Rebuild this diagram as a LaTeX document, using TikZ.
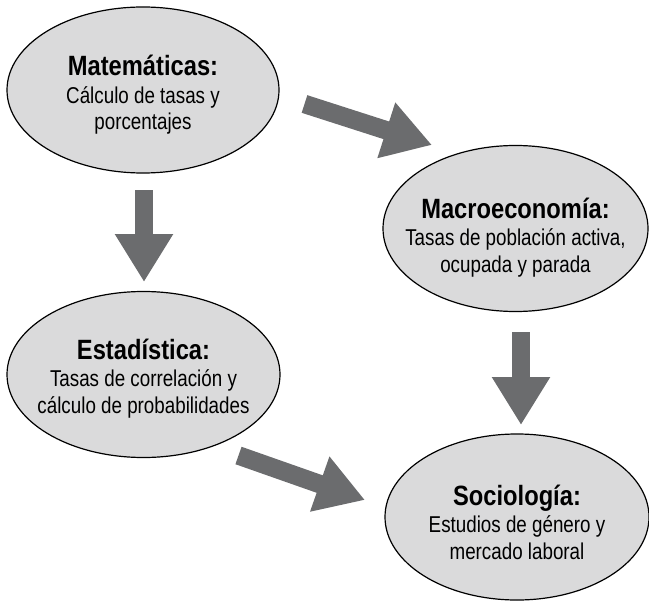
\documentclass[tikz,border=0pt]{standalone}
\usepackage{fontspec}
\setmainfont{Liberation Sans}[FakeStretch=0.82]
\newfontfamily\ttlfont{Liberation Sans}[FakeStretch=0.85]
\usetikzlibrary{shapes.geometric,arrows.meta}
\definecolor{ellfill}{RGB}{218,218,219}
\definecolor{arrgray}{RGB}{107,108,110}
\tikzset{
  topic/.style={ellipse, draw=black, line width=1.2bp, fill=ellfill,
    minimum width=#1, minimum height=166bp, inner sep=0pt},
  topic/.default=264bp,
  topictext/.style={align=center, inner sep=0pt,
    font=\fontsize{23}{26.5}\selectfont},
  blockarrow/.style={draw=arrgray, line width=18.5bp,
    -{Triangle[length=48bp,width=55bp,fill=arrgray]}}
}
\newcommand{\ttltext}[1]{{\ttlfont\fontsize{28}{28}\selectfont\bfseries #1}}
\begin{document}
\begin{tikzpicture}[x=1bp,y=-1bp]
\useasboundingbox (0,0) rectangle (649,602);
\node[topic=272bp] (mat) at (143,90) {};
\node[topic=265bp] (mac) at (515.5,228.5) {};
\node[topic=273bp] (est) at (143.5,374.5) {};
\node[topic=264bp] (soc) at (517,517) {};
\node[topictext] (matt) at ([yshift=-5bp]mat.center) {\ttltext{Matemáticas:}\\[1bp]Cálculo de tasas y\\porcentajes};
\node[topictext] (mact) at ([yshift=-9bp]mac.center) {\ttltext{Macroeconomía:}\\[1bp]Tasas de población activa,\\ocupada y parada};
\node[topictext] (estt) at ([yshift=-4bp]est.center) {\ttltext{Estadística:}\\[1bp]Tasas de correlación y\\cálculo de probabilidades};
\node[topictext] (soct) at ([yshift=-5bp]soc.center) {\ttltext{Sociología:}\\[1bp]Estudios de género y\\mercado laboral};
\coordinate (a1s) at (144,190); \coordinate (a1e) at (144,282);
\coordinate (a2s) at (521,332); \coordinate (a2e) at (521,425);
\coordinate (a3s) at (304.5,104); \coordinate (a3e) at (432,145);
\coordinate (a4s) at (238.5,455.5); \coordinate (a4e) at (365,500);
\draw[blockarrow] (a1s) -- (a1e);
\draw[blockarrow] (a2s) -- (a2e);
\draw[blockarrow] (a3s) -- (a3e);
\draw[blockarrow] (a4s) -- (a4e);
\end{tikzpicture}
\end{document}
